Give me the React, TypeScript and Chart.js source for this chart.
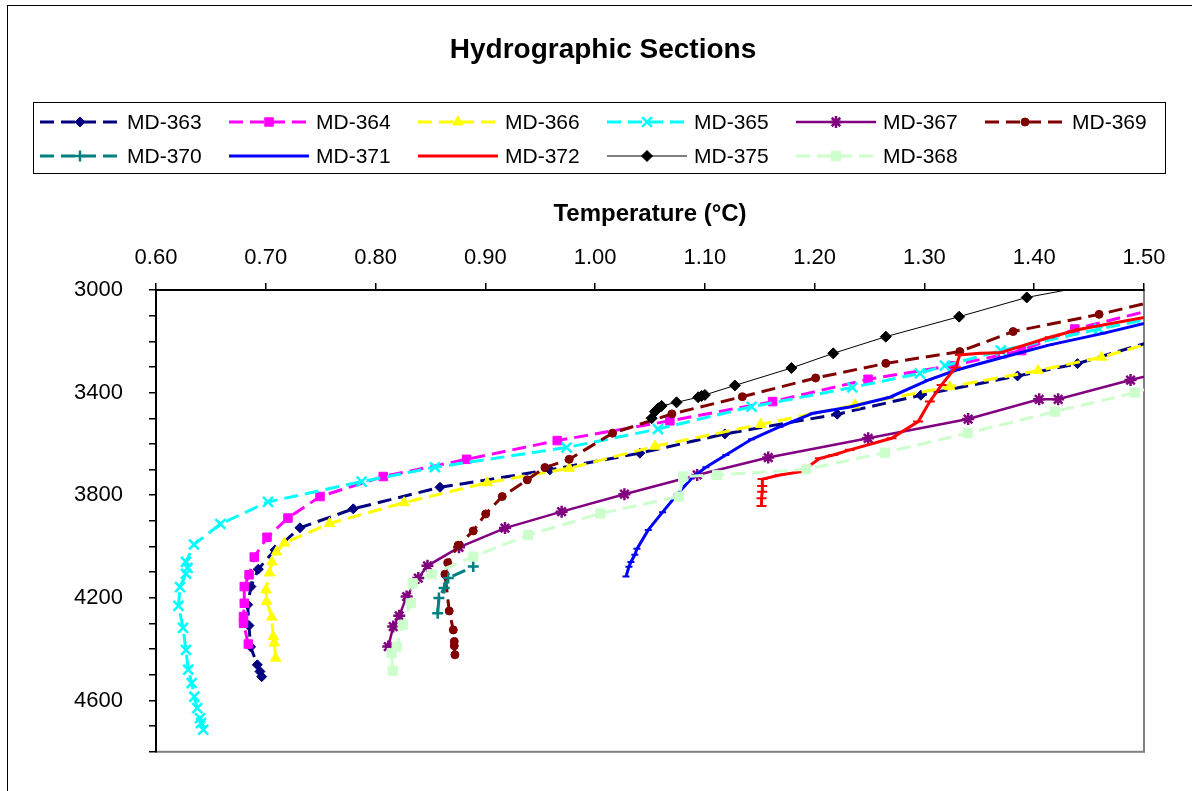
import React, { useEffect, useRef } from 'react';
import { Chart, registerables } from 'chart.js';
import { drawPoint } from 'chart.js/helpers';

Chart.register(...registerables);

const FONT = '"Liberation Sans", Arial, Helvetica, sans-serif';

// ---------- text ----------
const chartTitle = 'Hydrographic Sections';
const xAxisTitle = 'Temperature (°C)';
const xTickLabels = ['0.60', '0.70', '0.80', '0.90', '1.00', '1.10', '1.20', '1.30', '1.40', '1.50'];
const yTickLabels = [3000, 3400, 3800, 4200, 4600];

// ---------- data (temperature °C, depth) ----------
const md363T = [0.6963, 0.6947, 0.6923, 0.6862, 0.6847, 0.6835, 0.6865, 0.6932, 0.7084, 0.7311, 0.7797, 0.8587, 0.9588, 1.0408, 1.1182, 1.2205, 1.2967, 1.3848, 1.4394, 1.5335];
const md363D = [4507, 4487, 4461, 4391, 4308, 4227, 4156, 4088, 4013, 3927, 3853, 3769, 3701, 3636, 3561, 3484, 3410, 3335, 3287, 3167];

const md364T = [0.6841, 0.6797, 0.6797, 0.6804, 0.6804, 0.6848, 0.6895, 0.7011, 0.7202, 0.7494, 0.8070, 0.8830, 0.9655, 1.0681, 1.1617, 1.2487, 1.3247, 1.3884, 1.4370, 1.5326];
const md364D = [4380, 4299, 4273, 4221, 4156, 4110, 4041, 3964, 3889, 3805, 3727, 3660, 3587, 3510, 3435, 3348, 3295, 3236, 3152, 3051];

const md366T = [0.7090, 0.7077, 0.7068, 0.7054, 0.7008, 0.7002, 0.7034, 0.7056, 0.7097, 0.7170, 0.7580, 0.8259, 0.9017, 0.9764, 1.0545, 1.1508, 1.2366, 1.3231, 1.4036, 1.4613, 1.5326];
const md366D = [4435, 4376, 4351, 4275, 4214, 4169, 4103, 4060, 4021, 3986, 3910, 3829, 3751, 3695, 3609, 3524, 3448, 3377, 3314, 3262, 3174];

const md365T = [0.6431, 0.6410, 0.6401, 0.6376, 0.6349, 0.6325, 0.6294, 0.6273, 0.6246, 0.6205, 0.6219, 0.6273, 0.6287, 0.6273, 0.6346, 0.6587, 0.7020, 0.7873, 0.8541, 0.9740, 1.0572, 1.1425, 1.2343, 1.2958, 1.3186, 1.3696, 1.4591, 1.5400];
const md365D = [4714, 4688, 4669, 4630, 4585, 4532, 4480, 4403, 4317, 4231, 4158, 4106, 4083, 4060, 3992, 3912, 3826, 3747, 3691, 3614, 3542, 3455, 3380, 3325, 3295, 3236, 3152, 3084];

const md367T = [0.8116, 0.8161, 0.8216, 0.8283, 0.8389, 0.8473, 0.8760, 0.9179, 0.9695, 1.0267, 1.0930, 1.1577, 1.2487, 1.3398, 1.4045, 1.4218, 1.4877, 1.5326];
const md367D = [4390, 4312, 4270, 4195, 4123, 4075, 4003, 3928, 3864, 3796, 3721, 3653, 3578, 3503, 3426, 3426, 3351, 3304];

const md369T = [0.8723, 0.8717, 0.8717, 0.8708, 0.8671, 0.8632, 0.8657, 0.8753, 0.8890, 0.9003, 0.9154, 0.9382, 0.9543, 0.9764, 1.0159, 1.0699, 1.1341, 1.2009, 1.2648, 1.3322, 1.3808, 1.4591, 1.5326];
const md369D = [4422, 4387, 4370, 4325, 4251, 4108, 4063, 3995, 3939, 3873, 3805, 3740, 3692, 3660, 3558, 3483, 3416, 3343, 3286, 3240, 3162, 3095, 3021];

const md370T = [0.8566, 0.8577, 0.8625, 0.8662, 0.8890];
const md370D = [4260, 4201, 4162, 4123, 4078];

const md371T = [1.0281, 1.0308, 1.0326, 1.0362, 1.0381, 1.0484, 1.0615, 1.0748, 1.0891, 1.1009, 1.1191, 1.1425, 1.1683, 1.1986, 1.2321, 1.2685, 1.3034, 1.3292, 1.3717, 1.4142, 1.4627, 1.5326];
const md371D = [4117, 4079, 4060, 4032, 4009, 3935, 3866, 3796, 3729, 3691, 3643, 3582, 3533, 3480, 3456, 3418, 3351, 3312, 3262, 3214, 3169, 3097];

const md372T = [1.1516, 1.1516, 1.1522, 1.1522, 1.1525, 1.1683, 1.1880, 1.2047, 1.2169, 1.2321, 1.2700, 1.2943, 1.3049, 1.3156, 1.3286, 1.3322, 1.3505, 1.3687, 1.4142, 1.4415, 1.5326];
const md372D = [3842, 3812, 3786, 3764, 3737, 3721, 3708, 3656, 3643, 3623, 3578, 3513, 3435, 3370, 3301, 3253, 3247, 3245, 3184, 3153, 3082];

const md375T = [1.0515, 1.0545, 1.0575, 1.0606, 1.0742, 1.0939, 1.0970, 1.1000, 1.1273, 1.1788, 1.2169, 1.2648, 1.3316, 1.3932, 1.4780];
const md375D = [3500, 3474, 3461, 3452, 3438, 3418, 3413, 3409, 3372, 3304, 3247, 3182, 3104, 3029, 2961];

const md368T = [0.8156, 0.8147, 0.8192, 0.8247, 0.8320, 0.8338, 0.8511, 0.8890, 0.9391, 1.0048, 1.0763, 1.0803, 1.1112, 1.1926, 1.2640, 1.3393, 1.4188, 1.4916, 1.5326];
const md368D = [4484, 4415, 4390, 4305, 4221, 4143, 4108, 4039, 3955, 3871, 3805, 3727, 3721, 3699, 3634, 3558, 3474, 3400, 3346];

const seriesNames = ['MD-363', 'MD-364', 'MD-366', 'MD-365', 'MD-367', 'MD-369', 'MD-370', 'MD-371', 'MD-372', 'MD-375', 'MD-368'];
const seriesT = [md363T, md364T, md366T, md365T, md367T, md369T, md370T, md371T, md372T, md375T, md368T];
const seriesD = [md363D, md364D, md366D, md365D, md367D, md369D, md370D, md371D, md372D, md375D, md368D];

// ---------- styles ----------
const DASH = [14, 7];
type St = { color: string; width: number; dash: number[]; point: any; r: number; pbw: number };
const styles: St[] = [
  { color: '#000080', width: 3, dash: DASH, point: 'rectRot', r: 5, pbw: 1 },
  { color: '#FF00FF', width: 3, dash: DASH, point: 'rect', r: 6, pbw: 1 },
  { color: '#FFFF00', width: 3, dash: DASH, point: 'triangle', r: 6, pbw: 1 },
  { color: '#00FFFF', width: 3, dash: DASH, point: 'crossRot', r: 7, pbw: 2.5 },
  { color: '#800080', width: 2.5, dash: [], point: 'star', r: 6, pbw: 2.5 },
  { color: '#800000', width: 3, dash: DASH, point: 'circle', r: 4, pbw: 1 },
  { color: '#008080', width: 3, dash: DASH, point: 'cross', r: 5.5, pbw: 2.5 },
  { color: '#0000FF', width: 3, dash: [], point: 'line', r: 3.5, pbw: 2 },
  { color: '#FF0000', width: 3, dash: [], point: 'line', r: 5, pbw: 2 },
  { color: '#000000', width: 1, dash: [], point: 'rectRot', r: 5.5, pbw: 1 },
  { color: '#CCFFCC', width: 3, dash: DASH, point: 'rect', r: 6.5, pbw: 1 },
];

const TOP_PAD = 190;

const decorPlugin = {
  id: 'decor',
  beforeDraw(chart: any) {
    const ctx = chart.ctx as CanvasRenderingContext2D;
    const a = chart.chartArea;
    ctx.save();
    ctx.fillStyle = '#fff';
    ctx.fillRect(0, 0, chart.width, chart.height);
    // outer frame
    ctx.strokeStyle = '#000';
    ctx.lineWidth = 1;
    ctx.strokeRect(7.5, 5.5, 1300, 900);
    // plot area border
    ctx.strokeStyle = '#808080';
    ctx.lineWidth = 2;
    ctx.strokeRect(a.left, a.top, a.right - a.left, a.bottom - a.top);
    // title
    ctx.fillStyle = '#000';
    ctx.font = `bold 28px ${FONT}`;
    ctx.textAlign = 'center';
    ctx.textBaseline = 'middle';
    ctx.fillText(chartTitle, 603, 50);
    ctx.restore();
  },
  afterDraw(chart: any) {
    const ctx = chart.ctx as CanvasRenderingContext2D;
    ctx.save();
    ctx.strokeStyle = '#000';
    ctx.lineWidth = 1;
    ctx.setLineDash([]);
    ctx.strokeRect(33.5, 102.5, 1132, 71);
    const rows = [122, 156];
    const colX = (c: number) => 40 + 189 * c;
    seriesNames.forEach((name, i) => {
      const st = styles[i];
      const row = Math.floor(i / 6);
      const col = i % 6;
      const x0 = colX(col);
      const y = rows[row];
      ctx.save();
      ctx.strokeStyle = st.color;
      ctx.lineWidth = st.width;
      ctx.setLineDash(st.dash);
      ctx.beginPath();
      ctx.moveTo(x0, y);
      ctx.lineTo(x0 + 80, y);
      ctx.stroke();
      ctx.setLineDash([]);
      ctx.fillStyle = st.color;
      ctx.strokeStyle = st.color;
      ctx.lineWidth = st.pbw;
      drawPoint(ctx, { pointStyle: st.point, radius: st.r, rotation: 0, borderWidth: st.pbw } as any, x0 + 40, y);
      ctx.restore();
      ctx.fillStyle = '#000';
      ctx.font = `21px ${FONT}`;
      ctx.textAlign = 'left';
      ctx.textBaseline = 'middle';
      ctx.fillText(name, x0 + 87, y + 1);
    });
    ctx.restore();
  },
};

export default function App() {
  const ref = useRef<HTMLCanvasElement>(null);
  useEffect(() => {
    const canvas = ref.current!;
    const datasets = seriesNames.map((name, i) => {
      const st = styles[i];
      return {
        label: name,
        data: seriesT[i].map((t, k) => ({ x: t, y: seriesD[i][k] })),
        showLine: true,
        borderColor: st.color,
        backgroundColor: st.color,
        borderWidth: st.width,
        borderDash: st.dash,
        pointStyle: st.point,
        pointRadius: st.r,
        pointHoverRadius: st.r,
        pointBackgroundColor: st.color,
        pointBorderColor: st.color,
        pointBorderWidth: st.pbw,
        tension: 0,
        clip: 0,
        order: seriesNames.length - i,
      };
    });
    const tickFont = { family: FONT, size: 22 };
    const chart = new Chart(canvas, {
      type: 'scatter',
      data: { datasets } as any,
      options: {
        responsive: false,
        animation: false,
        devicePixelRatio: 1,
        layout: { padding: { left: 0, top: TOP_PAD, right: 48, bottom: 39 } },
        plugins: { legend: { display: false }, tooltip: { enabled: false }, title: { display: false } },
        events: [],
        scales: {
          x: {
            type: 'linear',
            position: 'top',
            min: 0.6,
            max: 1.5,
            ticks: {
              stepSize: 0.1,
              autoSkip: false,
              maxRotation: 0,
              padding: 12,
              color: '#000',
              font: tickFont,
              callback: (v: any) => xTickLabels.find((l) => Math.abs(parseFloat(l) - Number(v)) < 1e-6) ?? '',
            },
            grid: { drawOnChartArea: false, drawTicks: true, tickLength: 7, color: '#000', lineWidth: 1.5 },
            border: { display: true, color: '#000', width: 2 },
            title: {
              display: true,
              text: xAxisTitle,
              color: '#000',
              font: { family: FONT, size: 24, weight: 'bold' },
              padding: { top: 10, bottom: 0 },
            },
            afterFit: (s: any) => { s.height = 290 - TOP_PAD; },
          },
          y: {
            type: 'linear',
            position: 'left',
            reverse: true,
            min: 3000,
            max: 4800,
            ticks: {
              stepSize: 100,
              autoSkip: false,
              padding: 26,
              color: '#000',
              font: tickFont,
              callback: (v: any) => (yTickLabels.includes(Number(v)) ? String(v) : ''),
            },
            grid: { drawOnChartArea: false, drawTicks: true, tickLength: 7, color: '#000', lineWidth: 1.5 },
            border: { display: true, color: '#000', width: 2 },
            afterFit: (s: any) => { s.width = 156; },
          },
        },
      } as any,
      plugins: [decorPlugin],
    });
    return () => chart.destroy();
  }, []);
  return (
    <div style={{ position: 'fixed', left: 0, top: 0, width: 1192, height: 791, background: '#fff' }}>
      <canvas ref={ref} width={1192} height={791} style={{ display: 'block' }} />
    </div>
  );
}
